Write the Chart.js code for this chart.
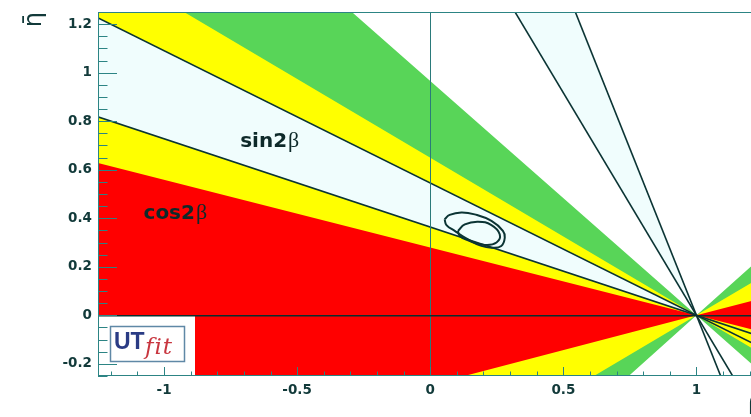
<!DOCTYPE html>
<html>
<head>
<meta charset="utf-8">
<script src="https://cdn.jsdelivr.net/npm/chart.js@4.4.1/dist/chart.umd.min.js"></script>
<style>
  html, body { margin: 0; padding: 0; background: #ffffff; overflow: hidden; width: 751px; height: 417px; }
  canvas { display: block; }
</style>
</head>
<body>
<canvas id="ut" width="800" height="417"></canvas>
<script>
// Common apex of all wedges: the (rho, eta) = (1, 0) corner of the unitarity triangle
const vertexRho = 1.0;
const vertexEta = 0.0;

// sin2beta band: the two beta values (degrees) bounding the shallow solution;
// the steep solution is the complementary angle 90 - beta
const sin2bBetaDeg = [20.0, 28.6];

// cos2beta regions, outermost first: opening angles (degrees) above and below the rho axis
const cos2bUpperDeg = [44.0, 33.0, 15.6];
const cos2bLowerDeg = [44.5, 33.0, 16.0];

// Fit contours in the (rho, eta) plane
const outerRho = [0.054, 0.073, 0.117, 0.167, 0.230, 0.273, 0.280, 0.267, 0.230, 0.192, 0.142, 0.092, 0.061];
const outerEta = [0.396, 0.414, 0.424, 0.416, 0.389, 0.348, 0.320, 0.286, 0.279, 0.286, 0.313, 0.348, 0.372];
const innerRho = [0.104, 0.130, 0.180, 0.230, 0.261, 0.249, 0.205, 0.142, 0.111];
const innerEta = [0.348, 0.375, 0.386, 0.372, 0.334, 0.300, 0.290, 0.309, 0.327];

// Axis ticks and their labels
const xTicks = [-1, -0.5, 0, 0.5, 1];
const xTickLabels = ['-1', '-0.5', '0', '0.5', '1'];
const yTicks = [-0.2, 0, 0.2, 0.4, 0.6, 0.8, 1, 1.2];
const yTickLabels = ['-0.2', '0', '0.2', '0.4', '0.6', '0.8', '1', '1.2'];

// Region labels (text, anchor rho, anchor eta)
const regionText = ['sin2', 'cos2'];
const regionRho = [-0.714, -1.077];
const regionEta = [0.694, 0.396];

// ---------------------------------------------------------------------------
const REACH = 4; // rays run well past the visible window and are clipped by the chart area
const rad = d => d * Math.PI / 180;
// point on a ray leaving the apex towards negative rho, tilted by deg (sign = +1 up, -1 down)
const leftRay = (deg, sign) => ({ x: vertexRho - REACH * Math.cos(rad(deg)), y: vertexEta + sign * REACH * Math.sin(rad(deg)) });
// continuation of that same straight line on the far side of the apex
const rightRay = (deg, sign) => ({ x: vertexRho + REACH * Math.cos(rad(deg)), y: vertexEta - sign * REACH * Math.sin(rad(deg)) });
const apex = () => ({ x: vertexRho, y: vertexEta });

function doubleWedge(upDeg, downDeg) {
  return [apex(), leftRay(upDeg, 1), leftRay(downDeg, -1), apex(),
          rightRay(downDeg, -1), rightRay(upDeg, 1), apex()];
}
function singleWedge(aDeg, bDeg) {
  return [apex(), leftRay(aDeg, 1), leftRay(bDeg, 1), apex()];
}
function fullLine(deg) {
  return [leftRay(deg, 1), rightRay(deg, 1)];
}

const cosColors = ['#58d558', '#ffff00', '#ff0000'];
const bandFill = '#f0fdfd';
const ink = '#0b3434';
const frameColor = '#2c8484';

const datasets = [];
cos2bUpperDeg.forEach((up, i) => {
  datasets.push({
    data: doubleWedge(up, cos2bLowerDeg[i]),
    showLine: true, fill: 'shape', backgroundColor: cosColors[i],
    borderWidth: 0, pointRadius: 0, tension: 0, order: 20 - i
  });
});
const steepBeta = sin2bBetaDeg.map(b => 90 - b);
datasets.push({ data: singleWedge(sin2bBetaDeg[0], sin2bBetaDeg[1]), showLine: true, fill: 'shape',
  backgroundColor: bandFill, borderWidth: 0, pointRadius: 0, tension: 0, order: 15 });
datasets.push({ data: singleWedge(steepBeta[1], steepBeta[0]), showLine: true, fill: 'shape',
  backgroundColor: bandFill, borderWidth: 0, pointRadius: 0, tension: 0, order: 15 });
sin2bBetaDeg.concat(steepBeta).forEach(b => {
  datasets.push({ data: fullLine(b), showLine: true, fill: false, borderColor: ink,
    borderWidth: 1.6, pointRadius: 0, tension: 0, order: 10 });
});
function contour(rhos, etas) {
  const pts = rhos.map((r, i) => ({ x: r, y: etas[i] }));
  pts.push(pts[0]);
  return pts;
}
datasets.push({ data: contour(outerRho, outerEta), showLine: true, fill: false, borderColor: ink,
  borderWidth: 2, pointRadius: 0, tension: 0.45, order: 5 });
datasets.push({ data: contour(innerRho, innerEta), showLine: true, fill: false, borderColor: ink,
  borderWidth: 2, pointRadius: 0, tension: 0.45, order: 5 });

const overlay = {
  id: 'overlay',
  afterDatasetsDraw(chart) {
    const { ctx, chartArea: a, scales: { x, y } } = chart;
    ctx.save();
    // logo panel in the lower-left corner
    const by = Math.round(y.getPixelForValue(0)) + 1;
    ctx.fillStyle = '#ffffff';
    ctx.fillRect(a.left, by, 97, a.bottom - by);
    ctx.strokeStyle = '#5f88a6';
    ctx.lineWidth = 1.5;
    ctx.strokeRect(a.left + 12.5, by + 10.5, 74, 35);
    ctx.textBaseline = 'alphabetic';
    ctx.textAlign = 'left';
    ctx.fillStyle = '#2a3b84';
    ctx.font = 'bold 23px "Liberation Sans"';
    ctx.fillText('UT', a.left + 16, by + 33);
    ctx.fillStyle = '#c8363f';
    ctx.font = 'italic 23px "DejaVu Serif"';
    ctx.letterSpacing = '1px';
    ctx.fillText('fit', a.left + 47, by + 38);
    ctx.letterSpacing = '0px';

    // region labels
    regionText.forEach((t, i) => {
      const px = x.getPixelForValue(regionRho[i]);
      const py = y.getPixelForValue(regionEta[i]);
      ctx.fillStyle = '#0e2a2a';
      ctx.font = 'bold 20px "DejaVu Sans"';
      ctx.fillText(t, px, py);
      const w = ctx.measureText(t).width;
      ctx.font = '22px "Liberation Serif"';
      ctx.fillText('\u03B2', px + w + 1, py);
    });
    ctx.restore();
  },
  afterDraw(chart) {
    const { ctx, chartArea: a, scales: { x, y } } = chart;
    ctx.save();
    ctx.strokeStyle = frameColor;
    ctx.lineWidth = 1;
    ctx.strokeRect(Math.round(a.left) + 0.5, Math.round(a.top) + 0.5,
                   Math.round(a.right - a.left), Math.round(a.bottom - a.top) - 1);
    ctx.beginPath();
    for (let k = Math.ceil(x.min * 10); k <= Math.floor(x.max * 10); k++) {
      const px = Math.round(x.getPixelForValue(k / 10)) + 0.5;
      const len = (k % 5 === 0) ? 9 : 4.5;
      ctx.moveTo(px, a.bottom);
      ctx.lineTo(px, a.bottom - len);
    }
    for (let k = Math.ceil(y.min * 20); k <= Math.floor(y.max * 20); k++) {
      const py = Math.round(y.getPixelForValue(k / 20)) + 0.5;
      const len = (k % 4 === 0) ? 19 : 9.5;
      ctx.moveTo(a.left, py);
      ctx.lineTo(a.left + len, py);
    }
    ctx.stroke();
    ctx.restore();
  }
};

const tickFont = { family: 'DejaVu Sans', size: 13.5, weight: 'bold' };

new Chart(document.getElementById('ut'), {
  type: 'scatter',
  data: { datasets },
  options: {
    responsive: false,
    animation: false,
    events: [],
    devicePixelRatio: 1,
    layout: { padding: { left: 0, top: 12, right: 37, bottom: 0 } },
    plugins: { legend: { display: false }, tooltip: { enabled: false } },
    scales: {
      x: {
        type: 'linear', min: -1.248, max: 1.25,
        afterBuildTicks: s => { s.ticks = xTicks.map(v => ({ value: v })); },
        afterFit: s => { s.height = 41; s.paddingLeft = 0; s.paddingRight = 0; },
        ticks: { callback: v => xTickLabels[xTicks.indexOf(v)], font: tickFont, color: '#123a3a',
                 padding: 6, maxRotation: 0, autoSkip: false },
        grid: { drawTicks: false, z: 1, lineWidth: 1,
                color: c => (c.tick && c.tick.value === 0) ? '#2a7a7a' : 'rgba(0,0,0,0)' },
        border: { display: false },
        title: { display: true, text: '\u03C1\u0304', align: 'end', color: '#123a3a',
                 font: { family: 'DejaVu Sans', size: 24 }, padding: { top: 0, bottom: 0 } }
      },
      y: {
        type: 'linear', min: -0.25, max: 1.25,
        afterBuildTicks: s => { s.ticks = yTicks.map(v => ({ value: v })); },
        afterFit: s => { s.width = 98; s.paddingTop = 0; s.paddingBottom = 0; },
        ticks: { callback: v => yTickLabels[yTicks.indexOf(v)], font: tickFont, color: '#123a3a',
                 padding: 6, autoSkip: false },
        grid: { drawTicks: false, z: 1, lineWidth: 1.5,
                color: c => (c.tick && c.tick.value === 0) ? '#0b2e2e' : 'rgba(0,0,0,0)' },
        border: { display: false },
        title: { display: true, text: '\u03B7\u0304', align: 'end', color: '#123a3a',
                 font: { family: 'DejaVu Sans', size: 24 }, padding: { top: 20, bottom: 0 } }
      }
    }
  },
  plugins: [overlay]
});
</script>
</body>
</html>
